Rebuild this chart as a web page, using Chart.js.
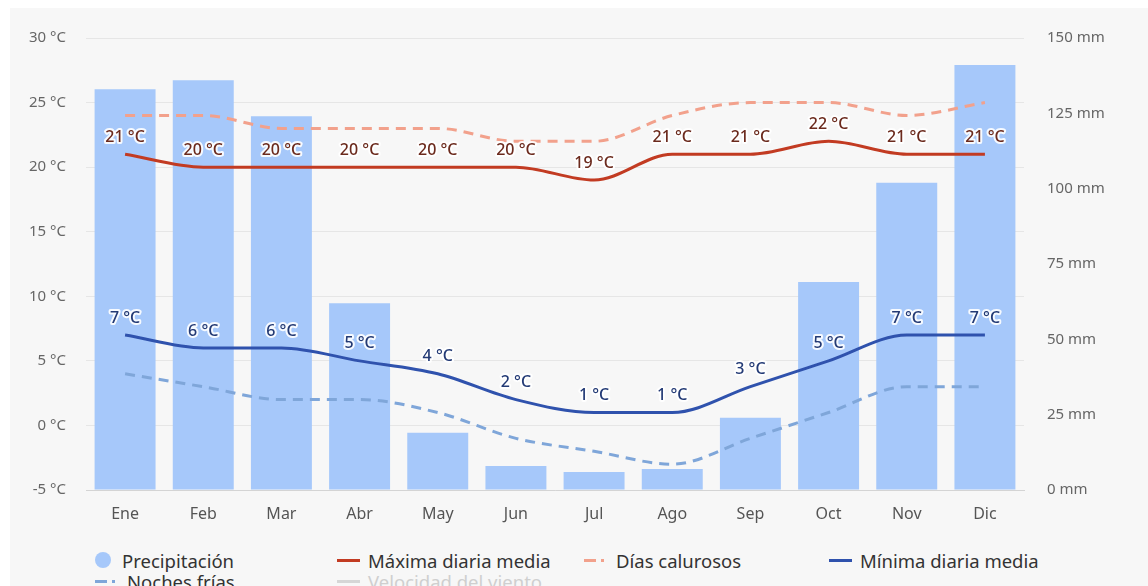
<!DOCTYPE html>
<html>
<head>
<meta charset="utf-8">
<script src="https://cdn.jsdelivr.net/npm/chart.js@4"></script>
<style>
  body { margin: 0; background: #fff; font-family: "Noto Sans", sans-serif; }
  #wrap { position: relative; width: 1148px; height: 586px; overflow: hidden; background: #fff; }
  #panel { position: absolute; left: 10px; top: 8px; right: 0; bottom: 0; background: #f7f7f7; }
  #chart { position: absolute; left: 0; top: 0; }
  .legend { position: absolute; left: 0; top: 547px; font-size: 18.5px; color: #333; }
  .item { position: absolute; white-space: nowrap; display: flex; align-items: center; height: 26px; }
  .dot { width: 16px; height: 16px; border-radius: 50%; background: #a6c8fa; margin-right: 11px; }
  .solid { width: 23px; height: 0; border-top: 3px solid; margin-right: 8px; }
  .dash { width: 12px; height: 0; border-top: 3px solid; margin-right: 5px; }
  .dotp { width: 3px; height: 0; border-top: 3px solid; margin-right: 12px; }
</style>
</head>
<body>
<div id="wrap">
  <div id="panel"></div>
  <canvas id="chart" width="1148" height="530"></canvas>
  <div class="legend">
    <div class="item" style="left:95px;top:0"><span class="dot"></span>Precipitación</div>
    <div class="item" style="left:337px;top:0"><span class="solid" style="border-color:#c23b22"></span>Máxima diaria media</div>
    <div class="item" style="left:584px;top:0"><span class="dash" style="border-color:#f2a18c"></span><span class="dotp" style="border-color:#f2a18c"></span>Días calurosos</div>
    <div class="item" style="left:829px;top:0"><span class="solid" style="border-color:#2f52ad"></span>Mínima diaria media</div>
    <div class="item" style="left:95px;top:21px"><span class="dash" style="border-color:#7fa6d9"></span><span class="dotp" style="border-color:#7fa6d9"></span>Noches frías</div>
    <div class="item" style="left:337px;top:21px;color:#cfcfcf"><span class="solid" style="border-color:#d6d6d6"></span>Velocidad del viento</div>
  </div>
</div>
<script>
const months = ["Ene", "Feb", "Mar", "Abr", "May", "Jun", "Jul", "Ago", "Sep", "Oct", "Nov", "Dic"];
const precipitation = [133, 136, 124, 62, 19, 8, 6, 7, 24, 69, 102, 141];
const maxTemp = [21, 20, 20, 20, 20, 20, 19, 21, 21, 22, 21, 21];
const hotDays = [24, 24, 23, 23, 23, 22, 22, 24, 25, 25, 24, 25];
const minTemp = [7, 6, 6, 5, 4, 2, 1, 1, 3, 5, 7, 7];
const coldNights = [4, 3, 2, 2, 1, -1, -2, -3, -1, 1, 3, 3];

// draws the "21 °C" style labels above the two main lines
const valueLabels = {
  id: "valueLabels",
  afterDatasetsDraw(chart) {
    const ctx = chart.ctx;
    chart.data.datasets.forEach((ds, i) => {
      if (!ds.labelColor) return;
      const meta = chart.getDatasetMeta(i);
      ctx.save();
      ctx.font = "500 16px 'Noto Sans', sans-serif";
      ctx.textAlign = "center";
      ctx.textBaseline = "middle";
      ctx.lineJoin = "round";
      meta.data.forEach((pt, j) => {
        const text = ds.data[j] + " °C";
        ctx.lineWidth = 4;
        ctx.strokeStyle = "rgba(255,255,255,0.9)";
        ctx.strokeText(text, pt.x, pt.y - 17);
        ctx.fillStyle = ds.labelColor;
        ctx.fillText(text, pt.x, pt.y - 17);
      });
      ctx.restore();
    });
  },
};

new Chart(document.getElementById("chart").getContext("2d"), {
  data: {
    labels: months,
    datasets: [
      {
        type: "line",
        label: "Máxima diaria media",
        data: maxTemp,
        borderColor: "#c23b22",
        borderWidth: 3,
        pointRadius: 0,
        cubicInterpolationMode: "monotone",
        yAxisID: "y",
        labelColor: "#6b2a1d",
        order: 1,
      },
      {
        type: "line",
        label: "Días calurosos",
        data: hotDays,
        borderColor: "#f2a18c",
        borderWidth: 3,
        borderDash: [10, 7],
        pointRadius: 0,
        cubicInterpolationMode: "monotone",
        yAxisID: "y",
        order: 2,
      },
      {
        type: "line",
        label: "Mínima diaria media",
        data: minTemp,
        borderColor: "#2f52ad",
        borderWidth: 3,
        pointRadius: 0,
        cubicInterpolationMode: "monotone",
        yAxisID: "y",
        labelColor: "#233a75",
        order: 1,
      },
      {
        type: "line",
        label: "Noches frías",
        data: coldNights,
        borderColor: "#7fa6d9",
        borderWidth: 3,
        borderDash: [10, 7],
        pointRadius: 0,
        cubicInterpolationMode: "monotone",
        yAxisID: "y",
        order: 2,
      },
      {
        type: "bar",
        label: "Precipitación",
        data: precipitation,
        backgroundColor: "#a6c8fa",
        categoryPercentage: 1,
        barPercentage: 0.78,
        yAxisID: "y1",
        order: 10,
      },
    ],
  },
  options: {
    responsive: false,
    animation: false,
    layout: { padding: { top: 38, left: 0, right: 0, bottom: 0 } },
    plugins: {
      legend: { display: false },
      tooltip: { enabled: false },
    },
    scales: {
      x: {
        grid: { display: false },
        border: { display: true, color: "#d4d4d4" },
        ticks: { padding: 7, color: "#555", font: { family: "'Noto Sans', sans-serif", size: 16 } },
        afterFit: (scale) => { scale.height = 40; },
      },
      y: {
        position: "left",
        min: -5,
        max: 30,
        ticks: {
          stepSize: 5,
          padding: 20,
          color: "#666",
          font: { family: "'Noto Sans', sans-serif", size: 15 },
          callback: (v) => v + " °C",
        },
        grid: { color: "#e6e6e6", drawTicks: false },
        border: { display: false },
        afterFit: (scale) => { scale.width = 86; },
      },
      y1: {
        position: "right",
        min: 0,
        max: 150,
        ticks: {
          stepSize: 25,
          padding: 23,
          color: "#666",
          font: { family: "'Noto Sans', sans-serif", size: 15 },
          callback: (v) => v + " mm",
        },
        grid: { drawOnChartArea: false, drawTicks: false },
        border: { display: false },
        afterFit: (scale) => { scale.width = 124; },
      },
    },
  },
  plugins: [valueLabels],
});
</script>
</body>
</html>
